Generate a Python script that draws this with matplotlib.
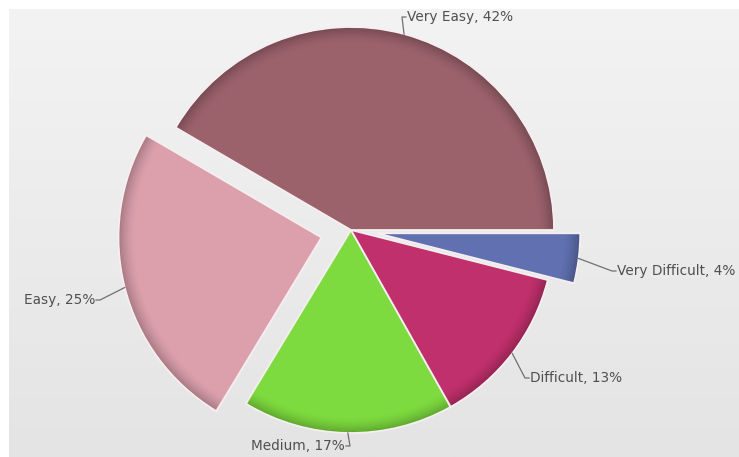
import matplotlib
matplotlib.use('Agg')
import matplotlib.pyplot as plt
import matplotlib.patches as patches
from matplotlib.colors import LinearSegmentedColormap, to_rgb
import numpy as np

# data
labels = ['Very Easy', 'Easy', 'Medium', 'Difficult', 'Very Difficult']
values = [42, 25, 17, 13, 4]
colors = ['#9c626c', '#dba0ac', '#7edb3f', '#c0306c', '#6070b0']
explode = [0, 0.15, 0, 0, 0.13]

# label anchor positions in pixels (x, y from top, alignment)
label_pos = [(407, 17, 'left'), (95, 300, 'right'), (345, 446, 'right'),
             (530, 378, 'left'), (617, 271, 'left')]

W, H = 739, 457
R = 203
fig = plt.figure(figsize=(W / 100, H / 100), dpi=100, facecolor='white')
ax = fig.add_axes([0, 0, 1, 1])

# background gradient panel
grad = np.linspace(0, 1, 256).reshape(-1, 1)
bg_cmap = LinearSegmentedColormap.from_list('bg', ['#f3f3f3', '#e4e4e4'])
ax.imshow(grad, extent=(9, W, 0, H - 9), cmap=bg_cmap, aspect='auto',
          origin='upper', zorder=0)

# pie explode is in data units, so scale by radius
wedges, _ = ax.pie(values, colors=colors, explode=[e * R for e in explode],
                   startangle=0, counterclock=True, center=(351, H - 230),
                   radius=R, wedgeprops=dict(edgecolor='#f6eef0', linewidth=1.3),
                   frame=True)

# darker rim to fake the bevel look
for w, c in zip(wedges, colors):
    dark = tuple(v * 0.5 for v in to_rgb(c))
    n = 12
    for i in range(n):
        ring = patches.Wedge(w.center, w.r - 1 - i * 1.2, w.theta1 + 0.4, w.theta2 - 0.4,
                             width=1.2, facecolor=dark, edgecolor='none',
                             alpha=0.45 * (1 - i / n) ** 1.6, zorder=3)
        ax.add_patch(ring)

# labels with leader lines
for w, lab, val, (tx, ty, ha) in zip(wedges, labels, values, label_pos):
    th = np.deg2rad((w.theta1 + w.theta2) / 2)
    ex = w.center[0] + w.r * np.cos(th)
    ey = w.center[1] + w.r * np.sin(th)
    ty = H - ty
    sgn = -1 if ha == 'left' else 1
    elbow = (tx + sgn * 5, ty)
    ax.plot([ex, elbow[0], tx + sgn * 1], [ey, ty, ty], color='#707070',
            lw=0.9, zorder=4)
    ax.text(tx, ty, f'{lab}, {val}%', ha=ha, va='center', fontsize=9.8,
            color='#505050', family='DejaVu Sans', zorder=5)

ax.set_xlim(0, W)
ax.set_ylim(0, H)
ax.set_aspect('auto')
ax.axis('off')

plt.savefig('out.png', dpi=100, facecolor='white')
